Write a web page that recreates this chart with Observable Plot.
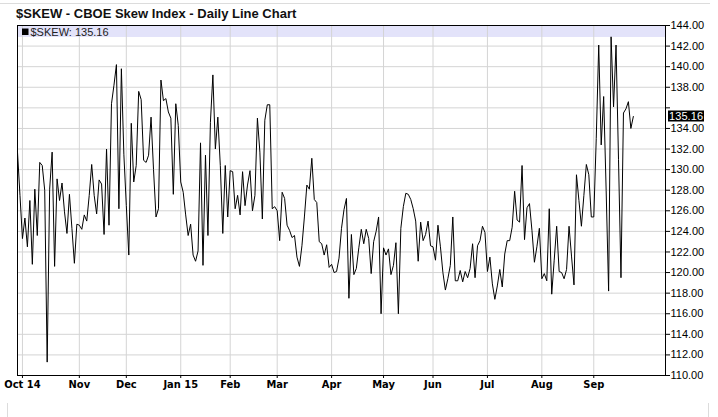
<!DOCTYPE html>
<html><head><meta charset="utf-8">
<script src="https://cdn.jsdelivr.net/npm/d3@7"></script>
<script src="https://cdn.jsdelivr.net/npm/@observablehq/plot@0.6"></script>
<style>
body{margin:0;background:#fff;font-family:"Liberation Sans",Arial,sans-serif;}
#wrap{position:relative;width:718px;height:417px;overflow:hidden;background:#fff;}
#title{position:absolute;left:16px;top:7px;font-weight:bold;font-size:13px;line-height:13px;color:#111;z-index:2;white-space:nowrap;}
#topline{position:absolute;left:0;top:3px;width:710px;height:1px;background:#dcdcdc;}
.vl{position:absolute;top:403px;width:1px;height:14px;background:#dcdcdc;}
#chart{position:absolute;left:0;top:0;}
</style></head>
<body><div id="wrap"><div id="topline"></div><div class="vl" style="left:7px"></div><div class="vl" style="left:708px"></div>
<div id="title">$SKEW - CBOE Skew Index - Daily Line Chart</div><div id="chart"></div></div>
<script>
// Daily closing values of $SKEW, one per trading day (late Sep 2014 - Sep 2015)
const skew = [
131.7,127.5,123.3,125.3,122.5,127.0,120.8,128.1,123.6,130.7,
130.4,128.0,111.3,128.1,131.7,120.6,129.1,127.0,128.7,125.9,
123.8,127.6,124.3,120.9,124.7,124.6,124.2,125.6,125.0,127.5,
130.5,127.5,125.7,129.0,128.6,123.7,132.0,124.6,136.4,138.2,
140.2,126.2,139.8,131.5,126.5,121.7,134.5,128.8,130.4,137.6,
136.8,130.9,130.7,131.4,135.1,130.0,125.4,126.2,138.7,136.7,
136.9,135.6,135.0,127.6,136.4,134.3,128.8,127.8,125.6,123.6,
124.7,121.7,121.1,122.1,132.6,120.7,131.4,123.6,134.6,139.2,
132.0,135.1,130.4,123.8,130.4,125.4,129.9,129.8,126.2,127.5,
125.6,129.8,126.5,128.5,129.9,126.0,127.5,135.0,131.7,125.2,
134.8,136.3,136.3,126.2,126.4,126.0,123.1,127.8,127.2,124.6,
124.1,123.4,123.6,121.5,120.6,122.6,125.4,128.5,128.1,131.1,
127.1,126.8,123.0,122.8,121.7,122.7,120.5,120.8,120.0,120.1,
121.4,124.3,126.1,127.2,117.5,123.7,119.8,120.4,122.4,124.2,
122.8,124.2,123.3,119.9,123.0,124.0,125.4,116.0,122.4,121.7,
122.3,119.8,120.7,122.9,116.0,124.3,126.4,127.7,127.6,127.1,
126.2,125.0,121.1,124.9,123.1,123.7,125.0,122.6,122.5,121.2,
124.6,122.5,120.0,118.3,119.4,120.7,125.4,119.2,119.2,120.2,
119.1,120.1,119.5,120.4,122.8,119.5,122.6,123.1,124.5,123.9,
120.1,121.5,118.9,117.4,118.7,120.3,118.6,121.8,123.1,123.1,
124.4,127.9,125.1,124.9,130.4,123.2,126.3,126.7,124.1,121.0,
122.5,124.3,119.4,119.9,119.2,126.2,117.9,121.2,124.5,120.1,
120.0,119.4,120.3,124.5,121.6,118.8,129.5,127.0,124.5,127.5,
130.5,129.5,125.4,125.4,133.0,142.1,132.4,137.1,128.0,118.2,
142.9,136.1,142.1,131.0,119.5,135.5,135.9,136.6,134.0,135.16
];
// trading-day index of the first session of each month, and its label
const monthTickIndex = [2,25,44,66,86,105,127,148,168,190,212,233];
const monthTickLabels = ["Oct 14","Nov","Dec","Jan 15","Feb","Mar","Apr","May","Jun","Jul","Aug","Sep"];
const yTicks = d3.range(110, 144.01, 2);
const seriesName = "$SKEW";

const lastValue = skew[skew.length - 1];
const data = skew.map((v, i) => ({i, v}));
const labelOf = new Map(monthTickIndex.map((d, k) => [d, monthTickLabels[k]]));
const FONT = "Liberation Sans, Arial, sans-serif";
// the last-value tag hides the axis label it would collide with
const yLabelTicks = yTicks.filter(d => Math.abs(d - lastValue) >= 1);

const legendBand = (index, scales, values, dims) => {
  const g = d3.create("svg:g");
  const x0 = dims.marginLeft, w = dims.width - dims.marginLeft - dims.marginRight;
  g.append("rect").attr("x", x0).attr("y", dims.marginTop).attr("width", w).attr("height", 12).attr("fill", "#e3e3fa");
  return g.node();
};
const legendText = (index, scales, values, dims) => {
  const g = d3.create("svg:g").attr("text-anchor", "start");
  const x0 = dims.marginLeft;
  g.append("rect").attr("x", x0 + 5).attr("y", dims.marginTop + 3.5).attr("width", 6.5).attr("height", 6.5).attr("fill", "#000");
  g.append("text").attr("x", x0 + 13.5).attr("y", dims.marginTop + 10.5)
    .attr("font-size", 11).attr("fill", "#222").attr("font-family", FONT).attr("text-anchor", "start")
    .text(`${seriesName}: ${lastValue.toFixed(2)}`);
  return g.node();
};
const lastTag = (index, scales, values, dims) => {
  const g = d3.create("svg:g").attr("text-anchor", "start");
  const x = dims.width - dims.marginRight + 3;
  const y = scales.y(lastValue);
  g.append("rect").attr("x", x).attr("y", y - 5.5).attr("width", 36).attr("height", 11).attr("fill", "#000");
  g.append("text").attr("x", x + 1).attr("y", y + 4).attr("font-size", 11).attr("fill", "#fff")
    .attr("font-family", FONT).attr("text-anchor", "start").attr("textLength", 34).text(lastValue.toFixed(2));
  return g.node();
};

const plot = Plot.plot({
  width: 718, height: 417,
  marginLeft: 17, marginRight: 53, marginTop: 25, marginBottom: 42,
  x: {domain: [0, 262]},
  y: {domain: [110, 144]},
  style: {background: "transparent", fontFamily: FONT, fontSize: "11px", color: "#000"},
  marks: [
    legendBand,
    Plot.gridY(yTicks, {stroke: "#d4d4d4", strokeOpacity: 1}),
    Plot.gridX(monthTickIndex, {stroke: "#d4d4d4", strokeOpacity: 1}),
    legendText,
    Plot.line(data, {x: "i", y: "v", stroke: "#000", strokeWidth: 1}),
    Plot.frame({stroke: "#000", strokeWidth: 1}),
    Plot.axisY(yTicks, {anchor: "right", tickSize: 4, text: null, label: null}),
    Plot.axisY(yLabelTicks, {anchor: "right", tickFormat: d => d.toFixed(2), tickSize: 0, tickPadding: 5, fontSize: 11, label: null}),
    Plot.axisX(monthTickIndex, {anchor: "bottom", tickFormat: d => labelOf.get(d), tickSize: 3, tickPadding: 2, fontSize: 11, fontWeight: "bold", fontFamily: "DejaVu Sans Condensed, Liberation Sans, sans-serif", label: null}),
    lastTag
  ]
});
document.getElementById("chart").appendChild(plot);
</script>
</body></html>
